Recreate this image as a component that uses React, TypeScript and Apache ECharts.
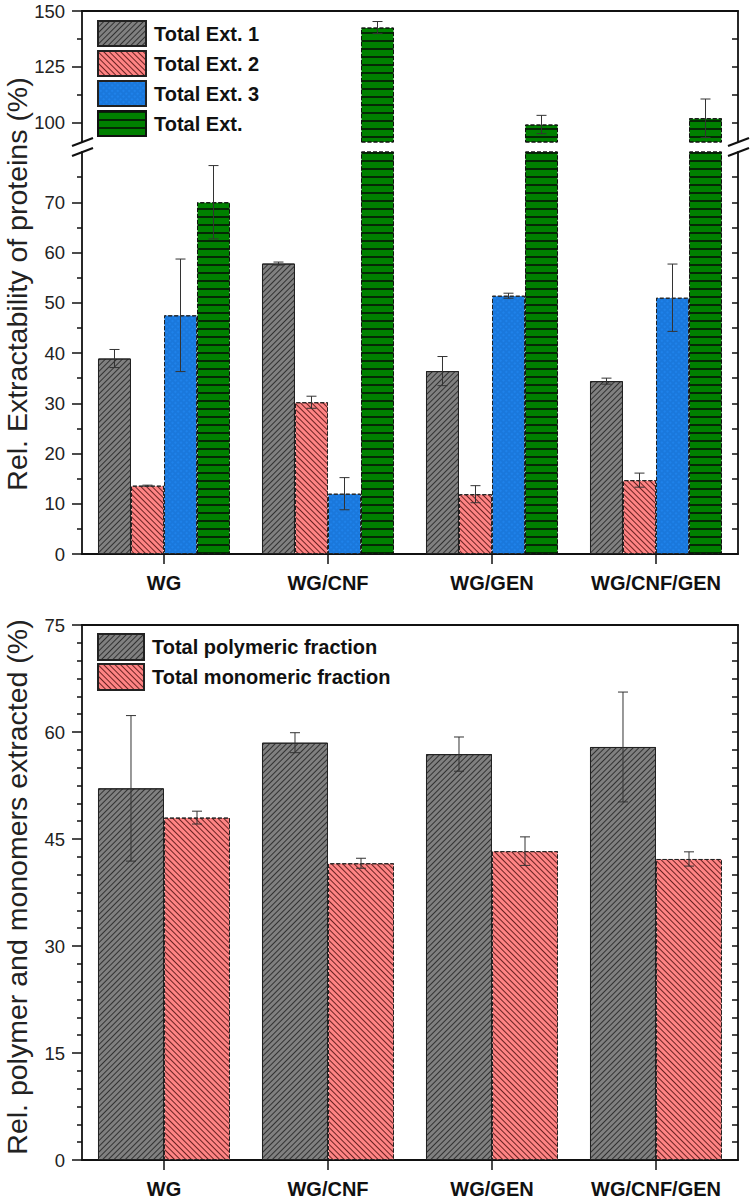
import React, { useEffect, useRef } from 'react';
import * as echarts from 'echarts';

const categories = ['WG', 'WG/CNF', 'WG/GEN', 'WG/CNF/GEN'];

const ext1 = [38.9, 57.8, 36.4, 34.4];
const ext1Err = [1.8, 0.3, 2.9, 0.6];
const ext2 = [13.6, 30.2, 11.9, 14.7];
const ext2Err = [0.1, 1.2, 1.7, 1.4];
const ext3 = [47.5, 12.0, 51.4, 51.0];
const ext3Err = [11.2, 3.2, 0.5, 6.7];
const extTotal = [70.0, 142.6, 99.3, 102.1];
const extTotalErr = [7.3, 2.7, 4.1, 8.6];

const polymeric = [52.1, 58.5, 56.9, 57.9];
const polymericErr = [10.2, 1.4, 2.4, 7.7];
const monomeric = [48.0, 41.6, 43.3, 42.2];
const monomericErr = [0.9, 0.7, 2.0, 1.0];

const upperLabels = [100, 125, 150];
const upperMinorTicks = [112.5, 137.5];
const upperRightTicks = [100, 112.5, 125, 137.5, 150];
const lowerLabels = [0, 10, 20, 30, 40, 50, 60, 70];
const lowerRightTicks = [0, 5, 10, 15, 20, 25, 30, 35, 40, 45, 50, 55, 60, 65, 70, 75];

const FONT = 'Liberation Sans, Arial, Helvetica, sans-serif';
const GAP = 0.195;
const LINE = { color: '#111', width: 1.8 };
const TICK = { color: '#111', width: 1.5 };

const grayStyle = {
  color: '#808080', borderColor: '#222', borderWidth: 1,
  decal: { symbol: 'rect', symbolSize: 1, dashArrayX: [1, 0], dashArrayY: [1, 2.4], rotation: -Math.PI / 4, color: 'rgba(30,30,30,0.8)' },
};
const pinkStyle = {
  color: '#ff8484', borderColor: '#222', borderWidth: 1, borderType: 'dashed',
  decal: { symbol: 'rect', symbolSize: 1, dashArrayX: [1, 0], dashArrayY: [1, 2.4], rotation: Math.PI / 4, color: 'rgba(70,10,10,0.8)' },
};
const blueStyle = {
  color: '#1a78dc', borderColor: '#222', borderWidth: 1, borderType: 'dashed',
  decal: { symbol: 'rect', symbolSize: 1, dashArrayX: [2, 1.4], dashArrayY: [2, 1.4], rotation: Math.PI / 4, color: '#1f82ea', backgroundColor: '#0a2a66' },
};
const greenStyle = {
  color: '#008000', borderColor: '#111', borderWidth: 1, borderType: 'dashed',
  decal: { symbol: 'rect', symbolSize: 1, dashArrayX: [1, 0], dashArrayY: [1.6, 5.7], rotation: 0, color: 'rgba(5,30,5,0.9)' },
};

function bar(name: string, data: number[], style: any, xAxisIndex: number, yAxisIndex: number) {
  return {
    type: 'bar', name, data, xAxisIndex, yAxisIndex,
    barGap: '0%', barCategoryGap: '19.5%',
    itemStyle: style, emphasis: { disabled: true }, clip: true, z: 2,
  };
}

function errSeries(vals: number[], errs: number[], slot: number, n: number, xAxisIndex: number, yAxisIndex: number) {
  return {
    type: 'custom', xAxisIndex, yAxisIndex, clip: true, silent: true, z: 10,
    encode: { x: 0, y: 1 },
    data: vals.map((v, i) => [i, v, errs[i]]),
    renderItem: (params: any, api: any) => {
      const i = api.value(0), v = api.value(1), e = api.value(2);
      const hi = api.coord([i, v + e]);
      const lo = api.coord([i, v - e]);
      const band = api.size([1, 0])[0];
      const bw = (band * (1 - GAP)) / n;
      const cx = hi[0] + (slot - (n - 1) / 2) * bw;
      const w = 5;
      const style = { stroke: '#333', lineWidth: 1 };
      return {
        type: 'group',
        children: [
          { type: 'line', shape: { x1: cx, y1: hi[1], x2: cx, y2: lo[1] }, style },
          { type: 'line', shape: { x1: cx - w, y1: hi[1], x2: cx + w, y2: hi[1] }, style },
          { type: 'line', shape: { x1: cx - w, y1: lo[1], x2: cx + w, y2: lo[1] }, style },
        ],
      };
    },
  };
}

const frameX = (gridIndex: number, position: string) => ({
  gridIndex, type: 'category', data: categories, position,
  axisLine: { show: true, onZero: false, lineStyle: LINE },
  axisTick: { show: false }, axisLabel: { show: false },
});
const labelX = (gridIndex: number) => ({
  gridIndex, type: 'category', data: categories, position: 'bottom',
  axisLine: { show: true, onZero: false, lineStyle: LINE },
  axisTick: { show: true, alignWithLabel: true, length: 10, lineStyle: TICK },
  axisLabel: { interval: 0, fontSize: 20, fontWeight: 'bold', color: '#111', margin: 19, fontFamily: FONT },
});
const yLabel = { fontSize: 18.5, color: '#222', margin: 17, fontFamily: FONT };
const legendText = { fontSize: 20, fontWeight: 'bold', color: '#111', fontFamily: FONT, padding: [0, 0, 0, 3] };

export default function App() {
  const ref = useRef<HTMLDivElement>(null);
  useEffect(() => {
    if (!ref.current) return;
    const chart = echarts.init(ref.current, null, { renderer: 'svg' });
    const option: any = {
      animation: false,
      backgroundColor: '#fff',
      grid: [
        { left: 82, right: 12, top: 11, height: 131 },
        { left: 82, right: 12, top: 152, height: 402 },
        { left: 82, right: 12, top: 625, height: 535 },
      ],
      legend: [
        {
          data: ['Total Ext. 1', 'Total Ext. 2', 'Total Ext. 3', 'Total Ext.'],
          orient: 'vertical', left: 97, top: 20, padding: 0,
          itemWidth: 48, itemHeight: 25, itemGap: 3, icon: 'rect', selectedMode: false,
          textStyle: legendText,
        },
        {
          data: ['Total polymeric fraction', 'Total monomeric fraction'],
          orient: 'vertical', left: 97, top: 633, padding: 0,
          itemWidth: 46, itemHeight: 26, itemGap: 2, icon: 'rect', selectedMode: false,
          textStyle: legendText,
        },
      ],
      xAxis: [frameX(0, 'top'), labelX(1), labelX(2), frameX(2, 'top')],
      yAxis: [
        {
          gridIndex: 0, type: 'value', min: 91.5, max: 150, position: 'left',
          axisLine: { show: true, lineStyle: LINE },
          axisTick: { show: true, length: 10, customValues: upperLabels, lineStyle: TICK },
          axisLabel: { customValues: upperLabels, ...yLabel },
          splitLine: { show: false },
        },
        {
          gridIndex: 0, type: 'value', min: 91.5, max: 150, position: 'left',
          axisLine: { show: false },
          axisTick: { show: true, length: 5, customValues: upperMinorTicks, lineStyle: TICK },
          axisLabel: { show: false }, splitLine: { show: false },
        },
        {
          gridIndex: 0, type: 'value', min: 91.5, max: 150, position: 'right',
          axisLine: { show: true, lineStyle: LINE },
          axisTick: { show: true, inside: true, length: 6, customValues: upperRightTicks, lineStyle: TICK },
          axisLabel: { show: false }, splitLine: { show: false },
        },
        {
          gridIndex: 1, type: 'value', min: 0, max: 80, interval: 10, position: 'left',
          axisLine: { show: true, lineStyle: LINE },
          axisTick: { show: true, length: 10, customValues: lowerLabels, lineStyle: TICK },
          minorTick: { show: true, splitNumber: 2, length: 5, lineStyle: TICK },
          axisLabel: { customValues: lowerLabels, ...yLabel },
          splitLine: { show: false },
        },
        {
          gridIndex: 1, type: 'value', min: 0, max: 80, interval: 5, position: 'right',
          axisLine: { show: true, lineStyle: LINE },
          axisTick: { show: true, inside: true, length: 6, customValues: lowerRightTicks, lineStyle: TICK },
          axisLabel: { show: false }, splitLine: { show: false },
        },
        {
          gridIndex: 2, type: 'value', min: 0, max: 75, interval: 15, position: 'left',
          axisLine: { show: true, lineStyle: LINE },
          axisTick: { show: true, length: 10, lineStyle: TICK },
          minorTick: { show: true, splitNumber: 6, length: 5, lineStyle: TICK },
          axisLabel: yLabel,
          splitLine: { show: false },
        },
        {
          gridIndex: 2, type: 'value', min: 0, max: 75, interval: 2.5, position: 'right',
          axisLine: { show: true, lineStyle: LINE },
          axisTick: { show: true, inside: true, length: 6, lineStyle: TICK },
          axisLabel: { show: false }, splitLine: { show: false },
        },
      ],
      series: [
        bar('Total Ext. 1', ext1, grayStyle, 0, 0),
        bar('Total Ext. 2', ext2, pinkStyle, 0, 0),
        bar('Total Ext. 3', ext3, blueStyle, 0, 0),
        bar('Total Ext.', extTotal, greenStyle, 0, 0),
        errSeries(extTotal, extTotalErr, 3, 4, 0, 0),
        bar('Total Ext. 1', ext1, grayStyle, 1, 3),
        bar('Total Ext. 2', ext2, pinkStyle, 1, 3),
        bar('Total Ext. 3', ext3, blueStyle, 1, 3),
        bar('Total Ext.', extTotal, greenStyle, 1, 3),
        errSeries(ext1, ext1Err, 0, 4, 1, 3),
        errSeries(ext2, ext2Err, 1, 4, 1, 3),
        errSeries(ext3, ext3Err, 2, 4, 1, 3),
        errSeries(extTotal, extTotalErr, 3, 4, 1, 3),
        bar('Total polymeric fraction', polymeric, grayStyle, 2, 5),
        bar('Total monomeric fraction', monomeric, pinkStyle, 2, 5),
        errSeries(polymeric, polymericErr, 0, 2, 2, 5),
        errSeries(monomeric, monomericErr, 1, 2, 2, 5),
      ],
      graphic: [
        {
          type: 'text', x: 17, y: 284, rotation: Math.PI / 2,
          style: { text: 'Rel. Extractability of proteins (%)', fontSize: 28.5, fontFamily: FONT, fill: '#222', align: 'center', verticalAlign: 'middle' },
        },
        {
          type: 'text', x: 17, y: 887, rotation: Math.PI / 2,
          style: { text: 'Rel. polymer and monomers extracted (%)', fontSize: 28.5, fontFamily: FONT, fill: '#222', align: 'center', verticalAlign: 'middle' },
        },
        { type: 'line', shape: { x1: 72, y1: 146, x2: 93, y2: 138 }, style: { stroke: '#111', lineWidth: 2 }, z: 100 },
        { type: 'line', shape: { x1: 72, y1: 156, x2: 93, y2: 148 }, style: { stroke: '#111', lineWidth: 2 }, z: 100 },
        { type: 'line', shape: { x1: 728, y1: 146, x2: 749, y2: 138 }, style: { stroke: '#111', lineWidth: 2 }, z: 100 },
        { type: 'line', shape: { x1: 728, y1: 156, x2: 749, y2: 148 }, style: { stroke: '#111', lineWidth: 2 }, z: 100 },
      ],
    };
    chart.setOption(option);
    return () => chart.dispose();
  }, []);
  return <div ref={ref} style={{ position: 'absolute', left: 0, top: 0, width: 750, height: 1199 }} />;
}
